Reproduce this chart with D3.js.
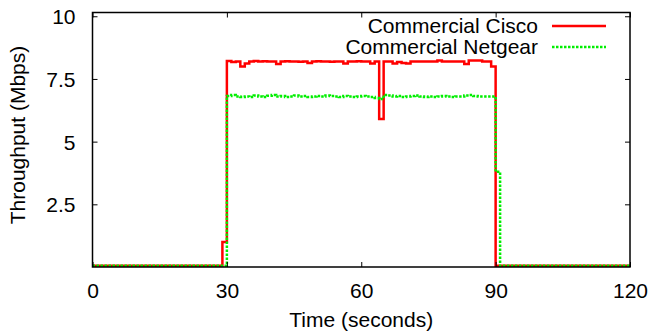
<!DOCTYPE html>
<html>
<head>
<meta charset="utf-8">
<script src="https://cdn.jsdelivr.net/npm/d3@7"></script>
<style>
  html, body { margin: 0; padding: 0; background: #fff; }
  svg { display: block; }
  text { font-family: "Liberation Sans", Arial, sans-serif; fill: #000; }
</style>
</head>
<body>
<svg id="chart" width="650" height="335"></svg>
<script>
// ---- data ----
const seriesNames = ["Commercial Cisco", "Commercial Netgear"];
const time = d3.range(0, 121); // seconds, 1 s samples
const cisco = [
  0.05,0.05,0.05,0.05,0.05,0.05,0.05,0.05,0.05,0.05,
  0.05,0.05,0.05,0.05,0.05,0.05,0.05,0.05,0.05,0.05,
  0.05,0.05,0.05,0.05,0.05,0.05,0.05,0.05,0.05,1.0,
  8.22,8.18,8.2,8.0,8.12,8.2,8.22,8.2,8.21,8.2,
  8.2,8.1,8.2,8.21,8.2,8.2,8.19,8.2,8.14,8.2,
  8.21,8.2,8.2,8.19,8.2,8.2,8.12,8.2,8.2,8.21,
  8.2,8.2,8.12,8.2,5.9,8.2,8.2,8.12,8.18,8.14,
  8.12,8.2,8.2,8.2,8.2,8.2,8.2,8.24,8.2,8.2,
  8.2,8.2,8.2,8.1,8.24,8.24,8.24,8.2,8.2,8.0,
  0.05,0.05,0.05,0.05,0.05,0.05,0.05,0.05,0.05,0.05,
  0.05,0.05,0.05,0.05,0.05,0.05,0.05,0.05,0.05,0.05,
  0.05,0.05,0.05,0.05,0.05,0.05,0.05,0.05,0.05,0.05,
  0.05
];
const netgear = [
  0.05,0.05,0.05,0.05,0.05,0.05,0.05,0.05,0.05,0.05,
  0.05,0.05,0.05,0.05,0.05,0.05,0.05,0.05,0.05,0.05,
  0.05,0.05,0.05,0.05,0.05,0.05,0.05,0.05,0.05,0.05,
  6.82,6.86,6.8,6.78,6.8,6.78,6.84,6.8,6.78,6.83,
  6.86,6.8,6.82,6.78,6.8,6.84,6.8,6.82,6.78,6.8,
  6.82,6.8,6.84,6.82,6.8,6.78,6.82,6.8,6.78,6.8,
  6.82,6.8,6.78,6.74,6.7,6.86,6.84,6.8,6.82,6.78,
  6.8,6.82,6.84,6.8,6.78,6.8,6.78,6.8,6.82,6.8,
  6.78,6.8,6.8,6.84,6.86,6.82,6.8,6.8,6.8,6.8,
  3.8,0.05,0.05,0.05,0.05,0.05,0.05,0.05,0.05,0.05,
  0.05,0.05,0.05,0.05,0.05,0.05,0.05,0.05,0.05,0.05,
  0.05,0.05,0.05,0.05,0.05,0.05,0.05,0.05,0.05,0.05,
  0.05
];
const xTicks = [0, 30, 60, 90, 120];
const yTicks = [2.5, 5, 7.5, 10];
const yTickLabels = ["2.5", "5", "7.5", "10"];
const xTitle = "Time (seconds)";
const yTitle = "Throughput (Mbps)";

// ---- layout ----
const L = 92.5, R = 630, T = 12.5, B = 267;
const FS = 21;
const svg = d3.select("#chart");
const x = d3.scaleLinear().domain([0, 120]).range([L, R]);
const y = d3.scaleLinear().domain([0, 10.15]).range([B, T]);

svg.append("defs").append("clipPath").attr("id", "clip")
  .append("rect").attr("x", L).attr("y", T).attr("width", R - L).attr("height", B - T);

// series
const colors = ["#ff0000", "#00ee00"];
const dashes = [null, "2.5,1.5"];
const seriesData = [cisco, netgear];
const line = d3.line().curve(d3.curveStepAfter)
  .x(d => x(d[0])).y(d => y(d[1]));
seriesData.forEach((vals, i) => {
  svg.append("path")
    .attr("clip-path", "url(#clip)")
    .attr("d", line(time.map((t, k) => [t, vals[k]])))
    .attr("fill", "none")
    .attr("stroke", colors[i])
    .attr("stroke-width", 2.5)
    .attr("stroke-dasharray", dashes[i]);
});

// axes (gnuplot-style inward ticks with mirror)
const tl = 5;
const axB = svg.append("g").attr("transform", `translate(0,${B})`)
  .call(d3.axisBottom(x).tickValues(xTicks).tickSizeInner(-tl).tickSizeOuter(0).tickPadding(16));
const axT = svg.append("g").attr("transform", `translate(0,${T})`)
  .call(d3.axisTop(x).tickValues(xTicks).tickSizeInner(-tl).tickSizeOuter(0).tickFormat(""));
const axL = svg.append("g").attr("transform", `translate(${L},0)`)
  .call(d3.axisLeft(y).tickValues(yTicks).tickSizeInner(-tl).tickSizeOuter(0).tickPadding(17)
    .tickFormat((d, i) => yTickLabels[i]));
const axR = svg.append("g").attr("transform", `translate(${R},0)`)
  .call(d3.axisRight(y).tickValues(yTicks).tickSizeInner(-tl).tickSizeOuter(0).tickFormat(""));
[axB, axT, axL, axR].forEach(g => {
  g.select(".domain").remove();
  g.selectAll("line").attr("stroke", "#000").attr("stroke-width", 1);
  g.selectAll("text").attr("font-size", FS)
    .attr("font-family", "'Liberation Sans', Arial, sans-serif").attr("fill", "#000");
});
axL.selectAll("text").attr("dy", "0.36em");

// border
svg.append("rect").attr("x", L).attr("y", T).attr("width", R - L).attr("height", B - T)
  .attr("fill", "none").attr("stroke", "#000").attr("stroke-width", 1.5);

// titles
svg.append("text").attr("x", (L + R) / 2).attr("y", 327).attr("text-anchor", "middle")
  .attr("font-size", FS).text(xTitle);
svg.append("text").attr("transform", `translate(25,${135}) rotate(-90)`)
  .attr("text-anchor", "middle").attr("font-size", FS).text(yTitle);

// legend
const legY = [26, 47];
seriesNames.forEach((name, i) => {
  svg.append("text").attr("x", 538).attr("y", legY[i]).attr("dy", "0.35em")
    .attr("text-anchor", "end").attr("font-size", FS).text(name);
  svg.append("line").attr("x1", 552).attr("x2", 606).attr("y1", legY[i]).attr("y2", legY[i])
    .attr("stroke", colors[i]).attr("stroke-width", 2.5).attr("stroke-dasharray", dashes[i]);
});
</script>
</body>
</html>
